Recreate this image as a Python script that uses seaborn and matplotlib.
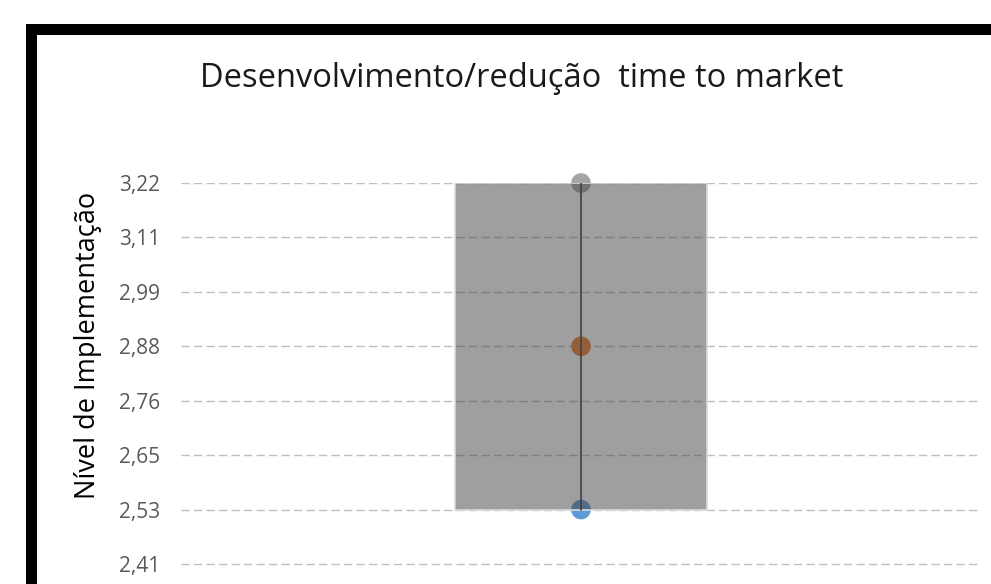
import numpy as np
import pandas as pd
import matplotlib
matplotlib.use("Agg")
import matplotlib.pyplot as plt
import seaborn as sns
from matplotlib.patches import Rectangle

# data
category = ["time to market"]
low_value = [2.53]
mean_value = [2.875]
high_value = [3.22]
tick_values = [2.415, 2.53, 2.645, 2.76, 2.875, 2.99, 3.105, 3.22]
tick_labels = ["2,41", "2,53", "2,65", "2,76", "2,88", "2,99", "3,11", "3,22"]
point_colors = ["#A5A5A5", "#ED7D31", "#5B9BD5"]  # max, mean, min

sns.set_style("white")
plt.rcParams["font.family"] = ["Open Sans", "DejaVu Sans"]
plt.rcParams["lines.scale_dashes"] = False

W, H = 991, 584
fig = plt.figure(figsize=(W / 100, H / 100), dpi=100)
fig.patch.set_facecolor("white")

# axes placed in pixel terms; bottom runs past the figure like the cropped original
top_px, px_per_unit = 183, 473.3
ymin, ymax = 2.30, 3.22
bottom_px = top_px + (ymax - ymin) * px_per_unit
ax = fig.add_axes([181 / W, 1 - bottom_px / H, 800 / W, (bottom_px - top_px) / H])

df = pd.DataFrame({"cat": category, "low": low_value, "high": high_value})
df["span"] = df["high"] - df["low"]

# points (drawn under the translucent bar)
pts = pd.DataFrame({
    "cat": category * 3,
    "val": high_value + mean_value + low_value,
    "kind": ["max", "mean", "min"],
})
sns.scatterplot(data=pts, x="cat", y="val", hue="kind", palette=point_colors,
                s=200, edgecolor="none", legend=False, ax=ax, zorder=3, clip_on=False)

sns.barplot(data=df, x="cat", y="span", bottom=df["low"].values, width=0.314,
            color="#3F3F3F", edgecolor="#D9D9D9", linewidth=1.2,
            ax=ax, zorder=4)
for p in ax.patches:
    p.set_alpha(None)
    p.set_facecolor((0.25, 0.25, 0.25, 0.5))

ax.plot([0, 0], [low_value[0], high_value[0]], color="#404040", lw=1.2, zorder=5)

ax.set_xlim(-0.5, 0.5)
ax.set_ylim(ymin, ymax)
ax.set_yticks(tick_values)
ax.set_yticklabels(tick_labels)
ax.tick_params(axis="y", length=0, pad=15, labelsize=15, labelcolor="#595959")
ax.tick_params(axis="x", length=0, labelbottom=False)
ax.set_xlabel("")
ax.set_ylabel("")
ax.grid(axis="y", color="#BFBFBF", lw=1, linestyle=(0, (6, 3)))
ax.set_axisbelow(True)
for s in ax.spines.values():
    s.set_visible(False)

fig.text(522 / W, 1 - 87 / H, "Desenvolvimento/redução  time to market",
         ha="center", va="baseline", fontsize=23.5, color="#1a1a1a")
fig.text(88 / W, 1 - 345 / H, "Nível de Implementação", rotation=90,
         ha="center", va="center", fontsize=19.5, color="black")

# thick black frame, right/bottom edges lie outside the crop
lw_px = 11
fig.add_artist(Rectangle((30.5 / W, -0.2), 1.2, 1 - 29.5 / H + 0.2,
                         transform=fig.transFigure, fill=False,
                         edgecolor="black", linewidth=lw_px * 0.72, clip_on=False))

fig.savefig("out.png", dpi=100)
